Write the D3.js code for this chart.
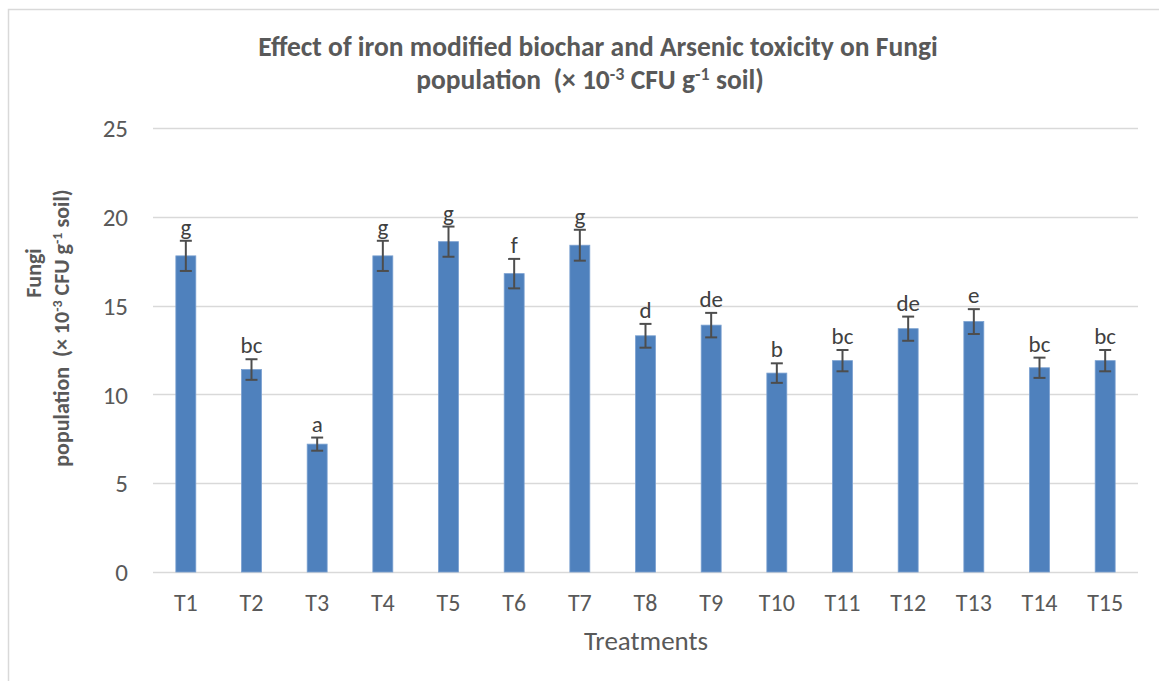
<!DOCTYPE html>
<html>
<head>
<meta charset="utf-8">
<script src="https://cdn.jsdelivr.net/npm/d3@7"></script>
<style>
  html, body { margin: 0; padding: 0; background: #fff; }
  svg { display: block; }
  text { font-family: Calibri, Carlito, Lato, "Open Sans", sans-serif; }
</style>
</head>
<body>
<svg id="chart" width="1159" height="681"></svg>
<script>
const categories = ["T1","T2","T3","T4","T5","T6","T7","T8","T9","T10","T11","T12","T13","T14","T15"];
const values = [17.8, 11.4, 7.2, 17.8, 18.6, 16.8, 18.4, 13.3, 13.9, 11.2, 11.9, 13.7, 14.1, 11.5, 11.9];
const errors = [0.85, 0.58, 0.37, 0.85, 0.85, 0.83, 0.87, 0.67, 0.69, 0.55, 0.6, 0.68, 0.7, 0.57, 0.6];
const letters = ["g","bc","a","g","g","f","g","d","de","b","bc","de","e","bc","bc"];
const yTicks = [0, 5, 10, 15, 20, 25];

const svg = d3.select("#chart");
const W = 1159, H = 681;
const plot = { left: 153, right: 1138, top: 128, bottom: 572 };
const FONT = "Calibri, Carlito, Lato, 'Open Sans', sans-serif";

svg.append("rect").attr("x", 0).attr("y", 0).attr("width", W).attr("height", H).attr("fill", "#fff");
// chart border
svg.append("rect").attr("x", 8.5).attr("y", 9.5).attr("width", W + 20).attr("height", H + 20)
  .attr("fill", "none").attr("stroke", "#d9d9d9").attr("stroke-width", 1.5);

const x = d3.scaleBand().domain(categories).range([plot.left, plot.right]).paddingInner(0.696).paddingOuter(0.348);
const y = d3.scaleLinear().domain([0, 25]).range([plot.bottom, plot.top]);

// gridlines
svg.append("g").selectAll("line").data(yTicks).join("line")
  .attr("x1", plot.left).attr("x2", plot.right)
  .attr("y1", d => Math.round(y(d)) + 0.5).attr("y2", d => Math.round(y(d)) + 0.5)
  .attr("stroke", "#d9d9d9").attr("stroke-width", 1.5);

// y axis labels
const yAxis = d3.axisLeft(y).tickValues(yTicks).tickSize(0).tickPadding(0);
const gy = svg.append("g").attr("transform", `translate(${plot.left - 25},0)`).call(yAxis);
gy.select(".domain").remove();
gy.selectAll("text").attr("fill", "#595959").style("font-size", "25px").attr("dy", "0.35em")
  .style("font-family", FONT);

// x axis labels
const xAxis = d3.axisBottom(x).tickSize(0).tickPadding(0);
const gx = svg.append("g").attr("transform", `translate(0,${plot.bottom})`).call(xAxis);
gx.select(".domain").remove();
gx.selectAll("text").attr("fill", "#595959").style("font-size", "24px").attr("y", 39).attr("dy", 0)
  .style("font-family", FONT);

// bars
svg.append("g").selectAll("rect").data(categories).join("rect")
  .attr("x", d => x(d))
  .attr("width", x.bandwidth())
  .attr("y", (d, i) => y(values[i]))
  .attr("height", (d, i) => y(0) - y(values[i]))
  .attr("fill", "#4f81bd")
  .attr("stroke", "#7aa0d0").attr("stroke-width", 0.8);

// error bars
const eg = svg.append("g").attr("stroke", "#4d4d4d").attr("stroke-width", 2);
categories.forEach((c, i) => {
  const cx = x(c) + x.bandwidth() / 2;
  const top = y(values[i] + errors[i]), bot = y(values[i] - errors[i]);
  eg.append("line").attr("x1", cx).attr("x2", cx).attr("y1", top).attr("y2", bot);
  eg.append("line").attr("x1", cx - 6).attr("x2", cx + 6).attr("y1", top).attr("y2", top);
  eg.append("line").attr("x1", cx - 6).attr("x2", cx + 6).attr("y1", bot).attr("y2", bot);
});

// letters
svg.append("g").selectAll("text").data(categories).join("text")
  .attr("x", d => x(d) + x.bandwidth() / 2)
  .attr("y", (d, i) => y(values[i] + errors[i]) - 6)
  .attr("text-anchor", "middle")
  .attr("fill", "#404040")
  .style("font-size", "23px")
  .text((d, i) => letters[i]);

// title
const title = svg.append("g").attr("fill", "#595959").style("font-weight", "bold").style("font-size", "27.5px");
title.append("text").attr("x", 598).attr("y", 56).attr("text-anchor", "middle")
  .text("Effect of iron modified biochar and Arsenic toxicity on Fungi");
const t2 = title.append("text").attr("x", 590).attr("y", 89).attr("text-anchor", "middle");
t2.append("tspan").text("population \u00A0(× 10");
t2.append("tspan").attr("dy", -9).style("font-size", "18px").text("-3");
t2.append("tspan").attr("dy", 9).text(" CFU g");
t2.append("tspan").attr("dy", -9).style("font-size", "18px").text("-1");
t2.append("tspan").attr("dy", 9).text(" soil)");

// y axis title
const yt = svg.append("g").attr("fill", "#595959").style("font-weight", "bold").style("font-size", "22px");
yt.append("text").attr("transform", "translate(41,273) rotate(-90)").attr("text-anchor", "middle").text("Fungi");
const yl2 = yt.append("text").attr("transform", "translate(69,328) rotate(-90)").attr("text-anchor", "middle");
yl2.append("tspan").text("population \u00A0(× 10");
yl2.append("tspan").attr("dy", -7).style("font-size", "14px").text("-3");
yl2.append("tspan").attr("dy", 7).text(" CFU g");
yl2.append("tspan").attr("dy", -7).style("font-size", "14px").text("-1");
yl2.append("tspan").attr("dy", 7).text(" soil)");

// x axis title
svg.append("text").attr("x", 646).attr("y", 650).attr("text-anchor", "middle")
  .attr("fill", "#595959").style("font-size", "27px").text("Treatments");
</script>
</body>
</html>
